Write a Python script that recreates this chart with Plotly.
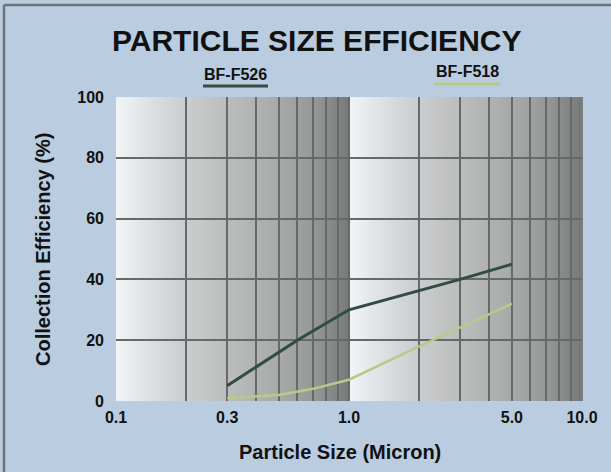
import numpy as np
import plotly.graph_objects as go

# ---- data ----
f526_x = [0.3, 0.6, 1.0, 3.0, 5.0]
f526_y = [5, 20, 30, 40, 45]
f518_x = [0.3, 0.5, 0.7, 1.0, 2.0, 5.0]
f518_y = [1, 2, 4, 7, 18, 32]
x_tickvals = [0.1, 0.3, 1.0, 5.0, 10.0]
x_ticktext = ["0.1", "0.3", "1.0", "5.0", "10.0"]
y_tickvals = [0, 20, 40, 60, 80, 100]
series_names = ["BF-F526", "BF-F518"]

DARK = "#2f4d3e"
LIGHT = "#b6cb88"
GRID = "rgb(100,105,105)"
PAPER = "rgb(186,205,224)"
FONT = "Liberation Sans, Arial, sans-serif"

W, H = 611, 472
L, R, T, B = 116, 29, 97, 71
pw = W - L - R
ph = H - T - B

fig = go.Figure()
fig.add_trace(go.Scatter(x=f518_x, y=f518_y, mode="lines", name=series_names[1],
                         line=dict(color=LIGHT, width=2.5), showlegend=False))
fig.add_trace(go.Scatter(x=f526_x, y=f526_y, mode="lines", name=series_names[0],
                         line=dict(color=DARK, width=3), showlegend=False))

# background gradient per decade (below grid)
shapes = []
fpts = [0.0, 0.2, 0.4, 0.7, 0.85, 1.0]
bpts = [246, 217, 195, 168, 150, 120]
N = 60
for d in range(2):
    for i in range(N):
        f0 = i / N
        f1 = (i + 1) / N
        b = np.interp((f0 + f1) / 2, fpts, bpts)
        c = f"rgb({int(b-3)},{int(b)},{int(b+3)})" if b > 200 else f"rgb({int(b)},{int(b+2)},{int(b+1)})"
        shapes.append(dict(type="rect", xref="x domain", yref="y domain",
                           x0=(d + f0) / 2, x1=(d + f1) / 2 + 0.002, y0=0, y1=1,
                           fillcolor=c, line=dict(width=0), layer="below"))

def px2px(xp):
    return (xp - L) / pw
def py2py(yp):
    return 1 - (yp - T) / ph

# legend underline bars
shapes.append(dict(type="line", xref="paper", yref="paper",
                   x0=px2px(203), x1=px2px(268), y0=py2py(86), y1=py2py(86),
                   line=dict(color=DARK, width=3)))
shapes.append(dict(type="line", xref="paper", yref="paper",
                   x0=px2px(434), x1=px2px(500), y0=py2py(84), y1=py2py(84),
                   line=dict(color=LIGHT, width=3)))
# outer frame: top and left edges
shapes.append(dict(type="line", xref="paper", yref="paper",
                   x0=px2px(4), x1=px2px(611), y0=py2py(5), y1=py2py(5),
                   line=dict(color="rgb(110,115,120)", width=2.5)))
shapes.append(dict(type="line", xref="paper", yref="paper",
                   x0=px2px(4), x1=px2px(4), y0=py2py(5), y1=py2py(472),
                   line=dict(color="rgb(110,115,120)", width=2.5)))

bold = dict(family=FONT, color="#111", weight="bold")
annotations = [
    dict(text="BF-F526", xref="paper", yref="paper", x=px2px(235), y=py2py(75),
         showarrow=False, font=dict(bold, size=16), xanchor="center", yanchor="middle"),
    dict(text="BF-F518", xref="paper", yref="paper", x=px2px(467), y=py2py(72),
         showarrow=False, font=dict(bold, size=16), xanchor="center", yanchor="middle"),
    dict(text="Particle Size (Micron)", xref="paper", yref="paper", x=px2px(340), y=py2py(452),
         showarrow=False, font=dict(bold, size=20), xanchor="center", yanchor="middle"),
    dict(text="Collection Efficiency (%)", xref="paper", yref="paper", x=px2px(43), y=py2py(250),
         showarrow=False, font=dict(bold, size=20), xanchor="center", yanchor="middle",
         textangle=-90),
    dict(text="PARTICLE SIZE EFFICIENCY", xref="paper", yref="paper", x=px2px(316), y=py2py(40),
         showarrow=False, font=dict(bold, size=30), xanchor="center", yanchor="middle"),
]

fig.update_layout(
    width=W, height=H,
    margin=dict(l=L, r=R, t=T, b=B, autoexpand=False),
    paper_bgcolor=PAPER, plot_bgcolor="white",
    shapes=shapes, annotations=annotations,
    xaxis=dict(type="log", range=[-1, 1], tickvals=x_tickvals, ticktext=x_ticktext,
               showgrid=True, gridcolor=GRID, gridwidth=1.8, zeroline=False,
               minor=dict(tickvals=[v * 10.0**e for e in (-1, 0) for v in range(1, 10)],
                          showgrid=True, gridcolor=GRID, gridwidth=1.8),
               tickfont=dict(bold, size=16),
               ticks="", ticklabelstandoff=5, automargin=False, showline=False),
    yaxis=dict(range=[0, 100], tickvals=y_tickvals, showgrid=True, gridcolor=GRID,
               gridwidth=1.8, zeroline=False,
               tickfont=dict(bold, size=16),
               ticks="", ticklabelstandoff=11, automargin=False, showline=False),
)

fig.write_html("out.html", config={"displayModeBar": False},
               post_script="document.body.style.margin='0';")
